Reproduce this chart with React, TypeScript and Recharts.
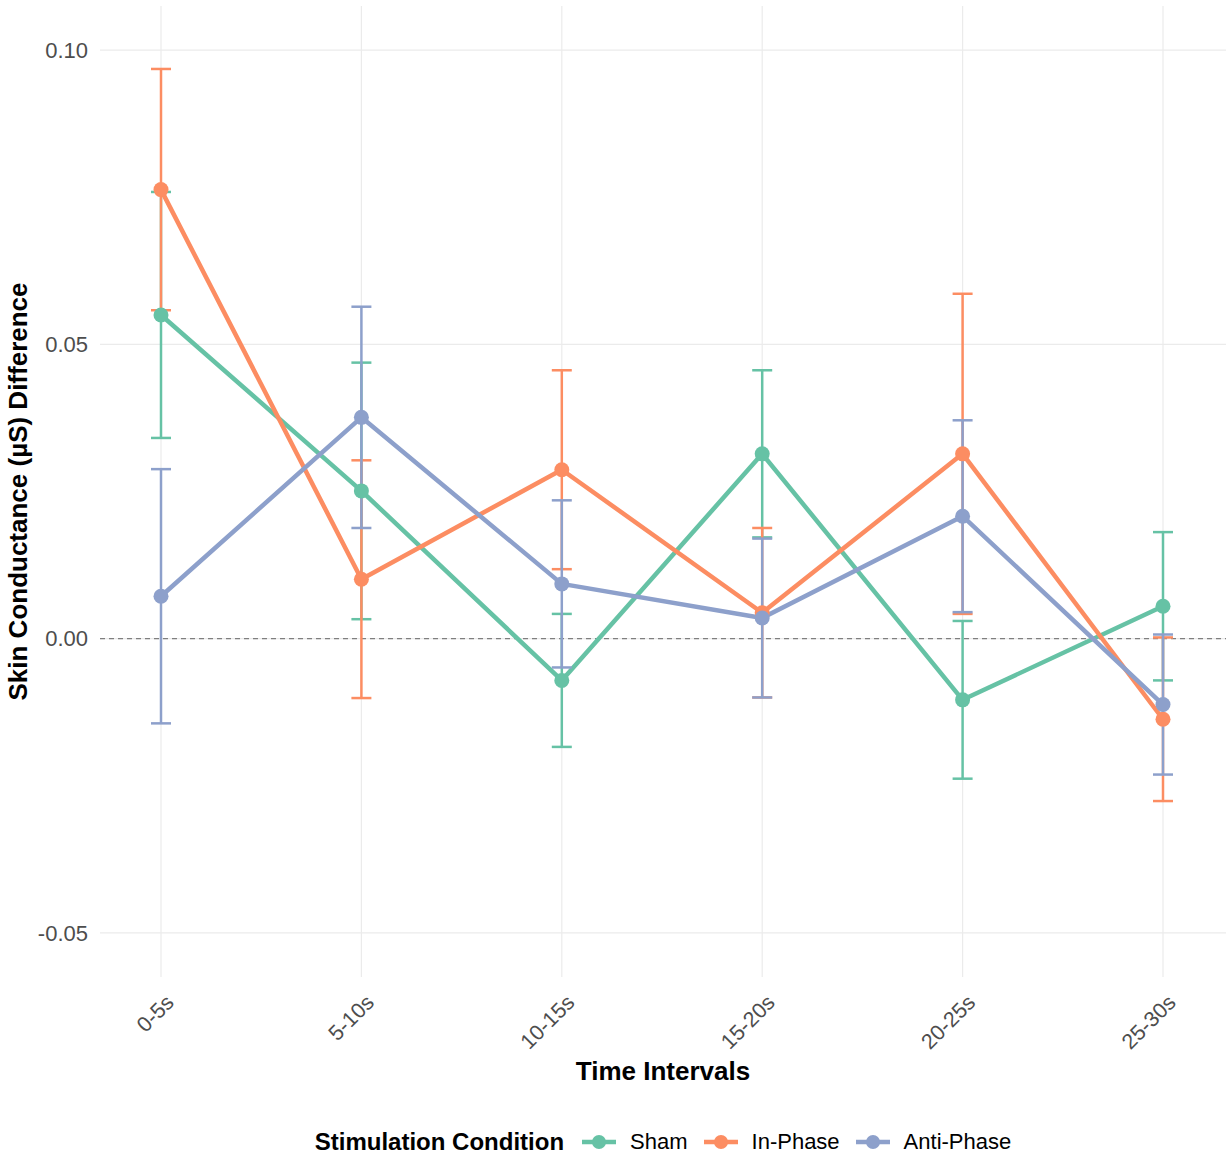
import React from "react";
import {
  CartesianGrid,
  ErrorBar,
  Line,
  LineChart,
  ReferenceLine,
  XAxis,
  YAxis,
} from "recharts";

// Time bins on the x axis
const intervals = ["0-5s", "5-10s", "10-15s", "15-20s", "20-25s", "25-30s"];

// Mean skin conductance difference per condition
const shamMean = [0.055, 0.0251, -0.0071, 0.0314, -0.0104, 0.0055];
const inPhaseMean = [0.0763, 0.0101, 0.0287, 0.0044, 0.0314, -0.0137];
const antiPhaseMean = [0.0072, 0.0376, 0.0093, 0.0035, 0.0208, -0.0112];

// Standard errors (symmetric error bars)
const shamSe = [0.0209, 0.0218, 0.0113, 0.0142, 0.0134, 0.0126];
const inPhaseSe = [0.0205, 0.0202, 0.0169, 0.0144, 0.0272, 0.0139];
const antiPhaseSe = [0.0216, 0.0188, 0.0142, 0.0135, 0.0163, 0.0119];

const yTicks = [-0.05, 0, 0.05, 0.1];

const series = [
  { key: "sham", name: "Sham", color: "#66C2A5", mean: shamMean, se: shamSe },
  { key: "inPhase", name: "In-Phase", color: "#FC8D62", mean: inPhaseMean, se: inPhaseSe },
  { key: "antiPhase", name: "Anti-Phase", color: "#8DA0CB", mean: antiPhaseMean, se: antiPhaseSe },
];

const data = intervals.map((interval, i) => {
  const row: Record<string, string | number> = { interval };
  series.forEach((s) => {
    row[s.key] = s.mean[i];
    row[s.key + "Err"] = s.se[i];
  });
  return row;
});

const FONT = '"Liberation Sans", Arial, sans-serif';

const XTick = (props: any) => {
  const { x, y, payload } = props;
  const px = x + 14;
  const py = y + 19;
  return (
    <text
      x={px}
      y={py}
      transform={`rotate(-45 ${px} ${py})`}
      textAnchor="end"
      fontSize={21.5}
      fill="#4d4d4d"
      fontFamily={FONT}
    >
      {payload.value}
    </text>
  );
};

const LegendKey = ({ color }: { color: string }) => (
  <svg width={34} height={20} style={{ display: "block" }}>
    <line x1={0} y1={10} x2={34} y2={10} stroke={color} strokeWidth={4.5} />
    <circle cx={17} cy={10} r={7} fill={color} />
  </svg>
);

export default function App() {
  return (
    <div
      style={{
        position: "absolute",
        left: 0,
        top: 0,
        width: 1229,
        height: 1158,
        background: "#fff",
        fontFamily: FONT,
      }}
    >
      <LineChart
        width={1229}
        height={1158}
        data={data}
        margin={{ top: 6, right: 3, left: 0, bottom: 0 }}
      >
        <CartesianGrid stroke="#ebebeb" strokeWidth={1.2} syncWithTicks />
        <XAxis
          dataKey="interval"
          height={181}
          axisLine={false}
          tickLine={false}
          interval={0}
          padding={{ left: 61, right: 63 }}
          tick={<XTick />}
          label={{
            content: ({ viewBox }: any) => (
              <text
                x={viewBox.x + viewBox.width / 2}
                y={viewBox.y + 103}
                textAnchor="middle"
                fontSize={26}
                fontWeight="bold"
                fill="#000"
                fontFamily={FONT}
              >
                Time Intervals
              </text>
            ),
          }}
        />
        <YAxis
          width={100}
          type="number"
          domain={[-0.0575, 0.1075]}
          allowDataOverflow
          ticks={yTicks}
          axisLine={false}
          tickLine={false}
          tickSize={6}
          tickMargin={6}
          tickFormatter={(v: number) => v.toFixed(2)}
          tick={{ fontSize: 22, fill: "#4d4d4d", fontFamily: FONT }}
          label={{
            content: ({ viewBox }: any) => {
              const x = viewBox.x + 27;
              const y = viewBox.y + viewBox.height / 2;
              return (
                <text
                  x={x}
                  y={y}
                  transform={`rotate(-90 ${x} ${y})`}
                  textAnchor="middle"
                  fontSize={26}
                  fontWeight="bold"
                  fill="#000"
                  fontFamily={FONT}
                >
                  Skin Conductance (µS) Difference
                </text>
              );
            },
          }}
        />
        <ReferenceLine
          y={0}
          stroke="#7f7f7f"
          strokeWidth={1.3}
          strokeDasharray="5 4"
        />
        {series.map((s) => (
          <Line
            key={s.key}
            type="linear"
            dataKey={s.key}
            name={s.name}
            stroke={s.color}
            strokeWidth={4.5}
            strokeLinejoin="round"
            dot={{ r: 7.5, fill: s.color, stroke: s.color, strokeWidth: 0 }}
            activeDot={false}
            isAnimationActive={false}
          >
            <ErrorBar
              dataKey={s.key + "Err"}
              width={10}
              strokeWidth={2.5}
              stroke={s.color}
              direction="y"
              isAnimationActive={false}
            />
          </Line>
        ))}
      </LineChart>

      <div
        style={{
          position: "absolute",
          left: 100,
          width: 1126,
          top: 1126,
          height: 32,
          display: "flex",
          alignItems: "center",
          justifyContent: "center",
          color: "#000",
        }}
      >
        <span style={{ fontSize: 24, fontWeight: "bold", marginRight: 18 }}>
          Stimulation Condition
        </span>
        {series.map((s, i) => (
          <div
            key={s.key}
            style={{
              display: "flex",
              alignItems: "center",
              marginRight: i < series.length - 1 ? 16 : 0,
            }}
          >
            <LegendKey color={s.color} />
            <span style={{ fontSize: 22, marginLeft: 14 }}>{s.name}</span>
          </div>
        ))}
      </div>
    </div>
  );
}
